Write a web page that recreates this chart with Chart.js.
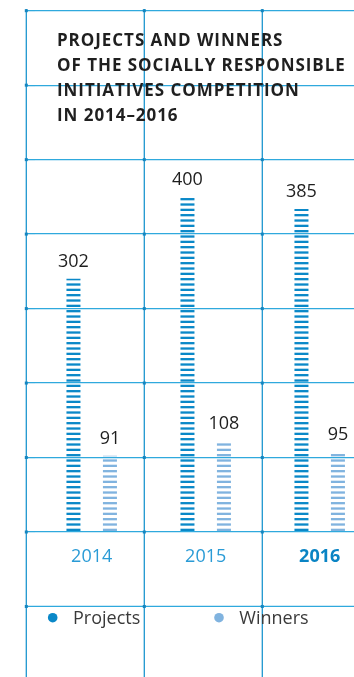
<!DOCTYPE html>
<html>
<head>
<meta charset="utf-8">
<script src="https://cdn.jsdelivr.net/npm/chart.js@4"></script>
<style>
  html, body { margin: 0; padding: 0; background: #ffffff; overflow: hidden; width: 354px; height: 677px; }
  canvas { display: block; }
</style>
</head>
<body>
<canvas id="c" width="400" height="677"></canvas>
<script>
// ---- data ----
const categories = ['2014', '2015', '2016'];
const projects = [302, 400, 385];
const winners = [91, 108, 95];
const seriesNames = ['Projects', 'Winners'];
const titleLines = ['PROJECTS AND WINNERS', 'OF THE SOCIALLY RESPONSIBLE', 'INITIATIVES COMPETITION', 'IN 2014–2016'];

// ---- styles ----
const PROJ_COLOR = '#0a88c8';
const WIN_COLOR = '#80b3df';
const HGRID = '#2fa9dd';
const VGRID = '#1d96cf';

function stripePattern(color) {
  const c = document.createElement('canvas');
  c.width = 4; c.height = 16;
  const x = c.getContext('2d');
  x.fillStyle = color;
  const offs = [0.7, 6.03, 11.37];
  offs.forEach(o => x.fillRect(0, o, 4, 2.3));
  return x.createPattern(c, 'repeat');
}

const decor = {
  id: 'decor',
  beforeDatasetsDraw(chart) {
    const ctx = chart.ctx;
    const y = chart.scales.y;
    ctx.save();
    const step = y.getPixelForValue(0) - y.getPixelForValue(88.8);
    const extraY = y.getPixelForValue(0) + step;
    ctx.strokeStyle = HGRID;
    ctx.lineWidth = 1.3;
    ctx.beginPath();
    ctx.moveTo(26.3, extraY); ctx.lineTo(chart.width, extraY);
    ctx.stroke();
    const vx = [26.3, 144.3, 262.3];
    ctx.strokeStyle = VGRID;
    ctx.lineWidth = 1.3;
    vx.forEach(x => {
      ctx.beginPath(); ctx.moveTo(x, 9); ctx.lineTo(x, chart.height); ctx.stroke();
    });
    const hy = y.ticks.map(t => y.getPixelForValue(t.value)).concat([extraY]);
    ctx.fillStyle = '#1585bf';
    vx.forEach(x => hy.forEach(yy => ctx.fillRect(x - 1.5, yy - 1.5, 3, 3)));
    ctx.restore();
  },
  afterDatasetsDraw(chart) {
    const ctx = chart.ctx;
    ctx.save();
    ctx.fillStyle = '#1e1e1e';
    ctx.font = '18px "Open Sans"';
    ctx.textAlign = 'center';
    ctx.textBaseline = 'alphabetic';
    chart.data.datasets.forEach((ds, di) => {
      const meta = chart.getDatasetMeta(di);
      meta.data.forEach((el, i) => {
        ctx.fillText(String(ds.data[i]), el.x, el.y - 12);
      });
    });
    ctx.fillStyle = '#1f1f1f';
    ctx.font = 'bold 17px "Open Sans"';
    ctx.textAlign = 'left';
    ctx.letterSpacing = '0.95px';
    titleLines.forEach((t, i) => ctx.fillText(t, 57, 45.7 + i * 25));
    ctx.letterSpacing = '0px';
    const leg = [{x: 52.7, c: PROJ_COLOR, t: seriesNames[0]}, {x: 219, c: WIN_COLOR, t: seriesNames[1]}];
    ctx.font = '18px "Open Sans"';
    leg.forEach(l => {
      ctx.fillStyle = l.c;
      ctx.beginPath(); ctx.arc(l.x, 617.7, 4.8, 0, Math.PI * 2); ctx.fill();
      ctx.fillStyle = '#3a3a3a';
      ctx.fillText(l.t, l.x + 20.3, 624.3);
    });
    ctx.restore();
  }
};

new Chart(document.getElementById('c'), {
  type: 'bar',
  data: {
    labels: categories,
    datasets: [
      { label: seriesNames[0], data: projects, backgroundColor: stripePattern(PROJ_COLOR), borderWidth: 0 },
      { label: seriesNames[1], data: winners, backgroundColor: stripePattern(WIN_COLOR), borderWidth: 0 }
    ]
  },
  options: {
    responsive: false,
    devicePixelRatio: 1,
    animation: false,
    categoryPercentage: 0.64,
    barPercentage: 0.384,
    layout: { padding: { left: 26.3, right: 23.3, top: 10.7, bottom: 95.4 } },
    plugins: { legend: { display: false }, tooltip: { enabled: false }, title: { display: false } },
    scales: {
      x: {
        grid: { display: false, drawTicks: false },
        border: { display: false },
        ticks: {
          padding: 14,
          color: (c) => c.index === 2 ? '#0a84c4' : '#2a9bd6',
          font: (c) => ({ family: 'Open Sans', size: 18, weight: c.index === 2 ? 'bold' : 'normal' })
        }
      },
      y: {
        min: 0,
        max: 621.6,
        grid: { color: HGRID, lineWidth: 1.3, drawTicks: true, tickLength: 8.4 },
        border: { display: false },
        ticks: { display: false, stepSize: 88.8 }
      }
    }
  },
  plugins: [decor]
});
</script>
</body>
</html>
